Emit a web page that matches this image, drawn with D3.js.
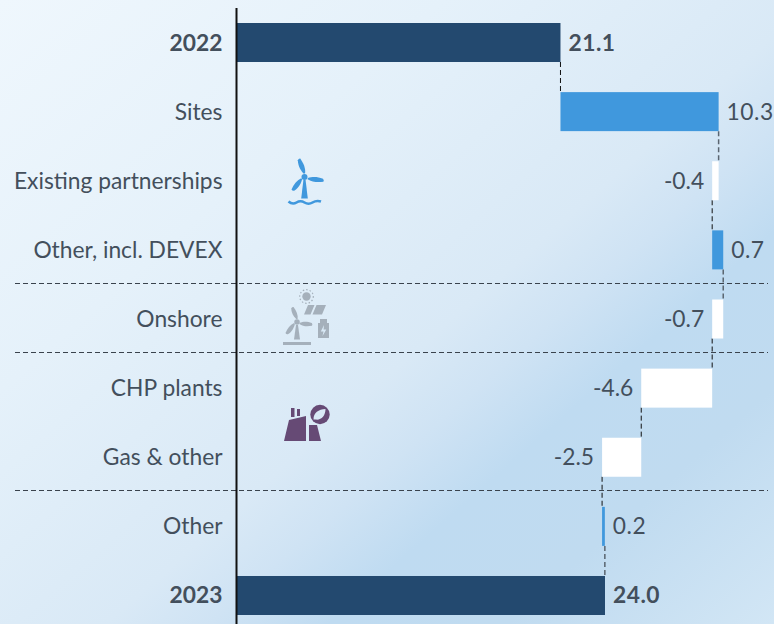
<!DOCTYPE html>
<html><head><meta charset="utf-8">
<script src="https://cdn.jsdelivr.net/npm/d3@7/dist/d3.min.js"></script>
<style>html,body{margin:0;padding:0;overflow:hidden;background:#dcebf7}svg{display:block}</style>
</head><body>
<script>
const categories = ["2022","Sites","Existing partnerships","Other, incl. DEVEX","Onshore","CHP plants","Gas & other","Other","2023"];
const values = [21.1,10.3,-0.42,0.72,-0.72,-4.62,-2.55,0.18,24.0];
const valueLabels = ["21.1","10.3","-0.4","0.7","-0.7","-4.6","-2.5","0.2","24.0"];
const kinds = ["total","delta","delta","delta","delta","delta","delta","delta","total"];
const dividersAfter = ["Other, incl. DEVEX","Onshore","Gas & other"];

const W=774,H=624;
const svg=d3.select("body").append("svg").attr("width",W).attr("height",H);
const defs=svg.append("defs");
const g1=defs.append("linearGradient").attr("id","bg").attr("gradientUnits","userSpaceOnUse")
  .attr("x1",0).attr("y1",0).attr("x2",647).attr("y2",735);
[[0,"#eff7fd"],[.3,"#e5f1fa"],[.55,"#d9e9f6"],[.62,"#cfe3f4"],[.7,"#bfdbf1"],[.82,"#c0dbf0"],[1,"#d2e6f5"]]
 .forEach(d=>g1.append("stop").attr("offset",d[0]).attr("stop-color",d[1]));
svg.append("rect").attr("width",W).attr("height",H).attr("fill","url(#bg)");

const x=d3.scaleLinear().domain([0,24]).range([236.5,605]);
const y=d3.scaleBand().domain(categories).range([23,615]).paddingInner(1-39/69.12).paddingOuter(0);
const ink="#434f5c";
const font="Lato, 'Open Sans', sans-serif";

let run=0;
const rows=categories.map((c,i)=>{
  let a,b;
  if(kinds[i]==="total"){a=0;b=values[i];run=values[i];}
  else{a=run;b=run+values[i];run=b;}
  return {c,i,a,b,v:values[i],label:valueLabels[i],kind:kinds[i]};
});

// dividers
const dividerY=dividersAfter.map(c=>{const i=categories.indexOf(c);
  return Math.floor((y(c)+y.bandwidth()+y(categories[i+1]))/2-1)+0.5;});
svg.selectAll(".div").data(dividerY).join("line").attr("x1",15).attr("x2",768)
  .attr("y1",d=>d).attr("y2",d=>d).attr("stroke","#3a434d").attr("stroke-width",1).attr("stroke-dasharray","5 3");

// connectors
const up=d=>d.kind==="delta"&&d.v>0;
svg.selectAll(".conn").data(rows.slice(0,-1)).join("line")
  .attr("x1",d=>x(d.b)).attr("x2",d=>x(d.b))
  .attr("y1",d=>y(d.c)+y.bandwidth())
  .attr("y2",d=>y(categories[d.i+1]))
  .attr("stroke",d=>up(d)?"#5a6570":"#111").attr("stroke-width",d=>up(d)?1.5:1).attr("stroke-dasharray","5 3");

// bars
svg.selectAll(".bar").data(rows).join("rect")
  .attr("x",d=>x(Math.min(d.a,d.b))).attr("width",d=>Math.abs(x(d.b)-x(d.a)))
  .attr("y",d=>y(d.c)).attr("height",y.bandwidth())
  .attr("fill",d=>d.kind==="total"?"#23496f":d.v>0?"#4098dd":"#ffffff");

// axis
svg.append("line").attr("x1",x(0)).attr("x2",x(0)).attr("y1",8).attr("y2",H)
  .attr("stroke","#111").attr("stroke-width",2);

// category labels
svg.selectAll(".cat").data(rows).join("text")
  .attr("x",222.5).attr("y",d=>y(d.c)+y.bandwidth()/2+8).attr("text-anchor","end")
  .attr("font-family",font).attr("font-size",22.8).attr("fill",ink)
  .attr("font-weight",d=>d.kind==="total"?700:400).text(d=>d.c);

// value labels
svg.selectAll(".val").data(rows).join("text")
  .attr("x",d=>d.v<0?x(d.b)-8:x(d.b)+8)
  .attr("y",d=>y(d.c)+y.bandwidth()/2+8)
  .attr("text-anchor",d=>d.v<0?"end":"start")
  .attr("font-family",font).attr("font-size",22.8).attr("letter-spacing",d=>d.v<0?0:0.5).attr("fill",ink)
  .attr("font-weight",d=>d.kind==="total"?700:400).text(d=>d.label);

// icons
const blue="#4098dd",grey="#a5b0bb",purple="#664a75",paper="#d9e9f6";
function blade(g,cx,cy,len,w,angle,color){
  const r=len*0.18;
  g.append("path")
   .attr("d",`M0,${-r}C${-w*0.35},${-len*0.35} ${-w*0.75},${-len*0.6} ${-w*0.55},${-len*0.94}Q${-w*0.35},${-len*1.03} ${-w*0.05},${-len}C${w*0.35},${-len*0.7} ${w*0.55},${-len*0.45} ${w*0.25},${-r}Z`)
   .attr("transform",`translate(${cx},${cy}) rotate(${angle})`).attr("fill",color);
}
function turbine(g,cx,cy,color,lens,w,towerTop,towerBottom){
  [[-12,lens[0]],[105,lens[1]],[227,lens[2]]].forEach(d=>blade(g,cx,cy,d[1],w,d[0],color));
  g.append("circle").attr("cx",cx).attr("cy",cy).attr("r",w*0.55).attr("fill",color);
  g.append("path").attr("d",`M${cx-w*0.2},${towerTop}L${cx+w*0.2},${towerTop}L${cx+w*0.6},${towerBottom}H${cx-w*0.6}Z`).attr("fill",color);
}
const i1=svg.append("g");
turbine(i1,304.500,177,blue,[19,19.500,18],5.500,180,198.500);
i1.append("path").attr("d","M288.500,201.500q4,3.500 8,1t8,0t8,0t8.500,-1").attr("fill","none").attr("stroke",blue).attr("stroke-width",2.6);

const i2=svg.append("g");
turbine(i2,297,322,grey,[15.500,15.500,16],5,325,339.500);
i2.append("rect").attr("x",283).attr("y",342).attr("width",28).attr("height",3).attr("fill",grey);
i2.append("circle").attr("cx",306.500).attr("cy",296.500).attr("r",4.200).attr("fill",grey);
i2.append("circle").attr("cx",306.500).attr("cy",296.500).attr("r",6.800).attr("fill","none").attr("stroke",grey).attr("stroke-width",1.200).attr("stroke-dasharray","1.500 2");
i2.append("path").attr("d","M308,305h6.500l-4,9.500h-6.500ZM316.500,305h9.500l-4,9.500h-9.500Z").attr("fill",grey);
i2.append("path").attr("d","M318,323h2v-4h7v4h2v15h-11Z").attr("fill",grey);
i2.append("path").attr("d","M324,325l-3.200,6.500h2.700l-1,4.500l3.800,-6.500h-2.700Z").attr("fill",paper);

const i3=svg.append("g").attr("fill",purple);
i3.append("path").attr("d","M284,441L289,420L306,416V441ZM309,441V425H317L321,441Z");
i3.append("rect").attr("x",291).attr("y",408).attr("width",3.500).attr("height",9);
i3.append("rect").attr("x",297).attr("y",409).attr("width",3).attr("height",7);
i3.append("circle").attr("cx",320).attr("cy",414.500).attr("r",9.700);
i3.append("path").attr("d","M313.500,419.500C313.500,412.500 318.500,409.500 325.500,409C325.500,416 321,420.500 315.500,419.500Z").attr("fill",paper);
</script>
</body></html>
